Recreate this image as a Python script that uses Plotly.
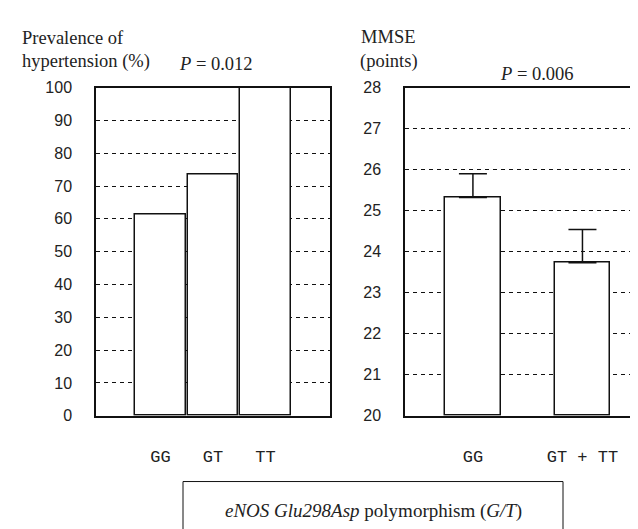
import plotly.graph_objects as go

# ---- data ----
left_categories = ["GG", "GT", "TT"]
left_values = [61.2, 73.4, 100.0]

right_categories = ["GG", "GT + TT"]
right_values = [25.32, 23.73]
right_err_plus = [0.58, 0.81]

left_ticks = list(range(0, 101, 10))
right_ticks = list(range(20, 29, 1))

W, H = 638, 529
def px(x):
    return x / W
def py(y):
    return 1 - y / H

SERIF = "Liberation Serif, Times New Roman, serif"
SANS = "Liberation Sans, Arial, sans-serif"
MONO = "Liberation Mono, DejaVu Sans Mono, monospace"

fig = go.Figure()

fig.add_trace(go.Bar(
    x=[0, 1, 2], y=left_values, width=0.97,
    marker=dict(color="white", line=dict(color="#111", width=1.5)),
    xaxis="x", yaxis="y", showlegend=False, hoverinfo="skip",
))

fig.add_trace(go.Bar(
    x=[0, 1], y=[v - 20 for v in right_values], base=20, width=0.51,
    marker=dict(color="white", line=dict(color="#111", width=1.5)),
    error_y=dict(type="data", symmetric=False, array=right_err_plus,
                 arrayminus=[0, 0], width=14, thickness=1.5, color="#111"),
    xaxis="x2", yaxis="y2", showlegend=False, hoverinfo="skip",
))

y_dom = [py(413), py(74)]

common_y = dict(
    showgrid=True, gridcolor="#111", gridwidth=1, griddash="4px,4px",
    showline=True, linecolor="#111", linewidth=1.5,
    ticks="", zeroline=False, ticklabelstandoff=19,
    tickfont=dict(family=SANS, size=16, color="#222"),
)
common_x = dict(
    showgrid=False, zeroline=False, ticks="",
    showline=True, linecolor="#111", linewidth=1.5,
    tickfont=dict(family=MONO, size=17, color="#222"),
    ticklabelstandoff=24, tickmode="array",
)

fig.update_layout(
    width=W, height=H,
    margin=dict(l=0, r=0, t=0, b=0),
    paper_bgcolor="white", plot_bgcolor="white",
    xaxis=dict(domain=[px(88), px(322)], range=[-1.23, 3.23],
               tickvals=[0, 1, 2], ticktext=left_categories,
               mirror=True, anchor="y", **common_x),
    yaxis=dict(domain=y_dom, range=[0, 100], tickvals=left_ticks,
               mirror=True, anchor="x", **common_y),
    xaxis2=dict(domain=[px(397), 1.0], range=[-0.62, 1.58],
                tickvals=[0, 1], ticktext=right_categories,
                mirror=True, anchor="y2", **common_x),
    yaxis2=dict(domain=y_dom, range=[20, 28], tickvals=right_ticks,
                anchor="x2", **common_y),
    bargap=0,
)

ann_font = dict(family=SERIF, size=18.5, color="#222")
annotations = [
    dict(text="Prevalence of", x=px(12), y=py(23), xanchor="left", yanchor="middle"),
    dict(text="hypertension (%)", x=px(12), y=py(47), xanchor="left", yanchor="middle"),
    dict(text="<i>P</i> = 0.012", x=px(208), y=py(50), xanchor="center", yanchor="middle"),
    dict(text="MMSE", x=px(351), y=py(22), xanchor="left", yanchor="middle"),
    dict(text="(points)", x=px(350), y=py(47), xanchor="left", yanchor="middle"),
    dict(text="<i>P</i> = 0.006", x=px(529), y=py(60), xanchor="center", yanchor="middle"),
    dict(text="<i>eNOS Glu298Asp</i> polymorphism (<i>G/T</i>)", x=px(365), y=py(511),
         xanchor="center", yanchor="middle", font=dict(family=SERIF, size=19, color="#222")),
]
for a in annotations:
    a.setdefault("font", ann_font)
    a.update(xref="paper", yref="paper", showarrow=False)
fig.update_layout(annotations=annotations)

fig.add_shape(type="rect", xref="paper", yref="paper",
              x0=px(175), x1=px(555), y0=py(545), y1=py(481),
              line=dict(color="#111", width=1), fillcolor="rgba(0,0,0,0)")

fig.write_html("out.html")
